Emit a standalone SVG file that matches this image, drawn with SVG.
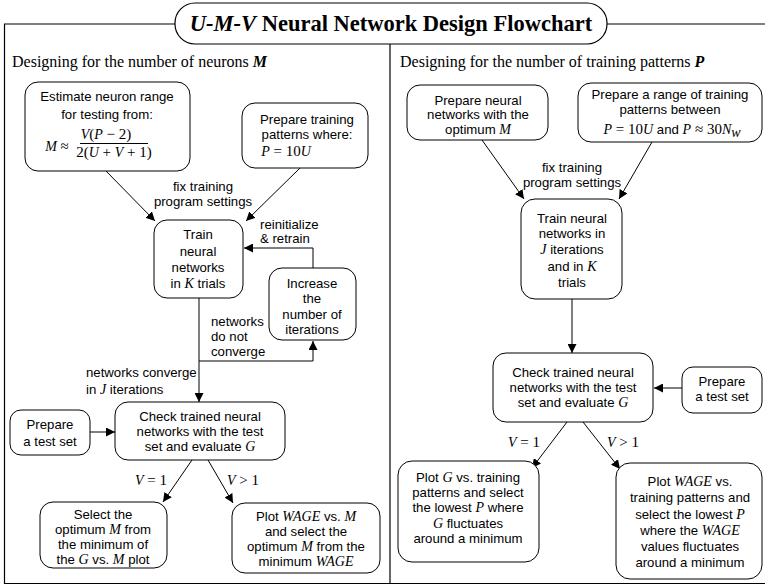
<svg xmlns="http://www.w3.org/2000/svg" width="765" height="586" viewBox="0 0 765 586">
  <defs>
    <marker id="arrow" viewBox="0 0 10 10" refX="10" refY="5" markerWidth="9" markerHeight="9" markerUnits="userSpaceOnUse" orient="auto">
      <path d="M0,0 L10,5 L0,10 z" fill="#000"/>
    </marker>
    <style>
      .frame { fill: none; stroke: #000; stroke-width: 1.2; }
      .box { fill: #fff; stroke: #000; stroke-width: 1; }
      .conn { fill: none; stroke: #000; stroke-width: 1; marker-end: url(#arrow); }
      .line { fill: none; stroke: #000; stroke-width: 1; }
      .t { font-family: "Liberation Sans", Arial, sans-serif; font-size: 13.2px; fill: #000; text-anchor: middle; }
      .l { text-anchor: start; }
      .m { font-family: "Liberation Serif", "Times New Roman", serif; font-style: italic; font-size: 14px; }
      .head { font-family: "Liberation Serif", "Times New Roman", serif; font-size: 16px; fill: #000; }
      .title { font-family: "Liberation Serif", "Times New Roman", serif; font-size: 22.5px; font-weight: bold; fill: #000; text-anchor: middle; }
      .eq { font-family: "Liberation Serif", "Times New Roman", serif; font-size: 15px; fill: #000; text-anchor: middle; }
    </style>
  </defs>

  <rect width="765" height="586" fill="#fff"/>

  <!-- page frame and column divider -->
  <g id="frame">
    <path class="frame" d="M175,24 H4.5 V583.5 H765"/>
    <path class="frame" d="M607,24 H765"/>
    <line class="frame" x1="390" y1="44" x2="390" y2="583.5"/>
  </g>

  <!-- title banner -->
  <g id="title">
    <rect x="175" y="3" width="432" height="41" rx="20" ry="20" fill="#fff" stroke="#000" stroke-width="1.2"/>
    <text class="title" x="391" y="31"><tspan font-style="italic">U-M-V</tspan> Neural Network Design Flowchart</text>
  </g>

  <!-- column headings -->
  <text class="head" x="12" y="67">Designing for the number of neurons <tspan font-weight="bold" font-style="italic">M</tspan></text>
  <text class="head" x="400" y="67">Designing for the number of training patterns <tspan font-weight="bold" font-style="italic">P</tspan></text>

  <!-- connectors -->
  <g id="connectors">
    <!-- left column -->
    <line class="conn" x1="106" y1="171" x2="155" y2="221"/>
    <line class="conn" x1="300" y1="168" x2="246" y2="221"/>
    <path class="conn" d="M313,268 V248 H244"/>
    <line class="conn" x1="199" y1="298" x2="199" y2="402"/>
    <path class="conn" d="M199,361 H313 V341"/>
    <line class="conn" x1="90" y1="432" x2="115" y2="432"/>
    <line class="conn" x1="192" y1="460" x2="163" y2="502"/>
    <line class="conn" x1="208" y1="460" x2="233" y2="503"/>
    <!-- right column -->
    <line class="conn" x1="482" y1="140" x2="524" y2="199"/>
    <line class="conn" x1="652" y1="142" x2="619" y2="199"/>
    <line class="conn" x1="572" y1="299" x2="572" y2="353"/>
    <line class="conn" x1="682" y1="388" x2="654" y2="388"/>
    <line class="conn" x1="567" y1="422" x2="532" y2="468"/>
    <line class="conn" x1="583" y1="422" x2="620" y2="469"/>
  </g>

  <!-- connector labels -->
  <g id="labels">
    <text class="t" x="203" y="191">fix training</text>
    <text class="t" x="203" y="206">program settings</text>
    <text class="t l" x="260" y="229">reinitialize</text>
    <text class="t l" x="260" y="243">&amp; retrain</text>
    <text class="t l" x="211" y="326">networks</text>
    <text class="t l" x="211" y="341">do not</text>
    <text class="t l" x="211" y="356">converge</text>
    <text class="t l" x="86" y="377">networks converge</text>
    <text class="t l" x="86" y="394">in <tspan class="m">J</tspan> iterations</text>
    <text class="eq" x="151" y="485"><tspan class="m">V</tspan> = 1</text>
    <text class="eq" x="243" y="485"><tspan class="m">V</tspan> &gt; 1</text>

    <text class="t" x="572" y="172">fix training</text>
    <text class="t" x="572" y="187">program settings</text>
    <text class="eq" x="524" y="447"><tspan class="m">V</tspan> = 1</text>
    <text class="eq" x="623" y="447"><tspan class="m">V</tspan> &gt; 1</text>
  </g>

  <!-- left column nodes -->
  <g id="estimate">
    <rect class="box" x="25" y="82" width="165" height="89" rx="13"/>
    <text class="t" x="107" y="101">Estimate neuron range</text>
    <text class="t" x="107" y="119">for testing from:</text>
    <text class="eq" x="57" y="151"><tspan class="m" font-size="15">M</tspan> ≈</text>
    <text class="eq" x="106" y="139"><tspan class="m" font-size="15">V</tspan>(<tspan class="m" font-size="15">P</tspan> − 2)</text>
    <line class="line" x1="80" y1="143.5" x2="148" y2="143.5"/>
    <text class="eq" x="114" y="157">2(<tspan class="m" font-size="15">U</tspan> + <tspan class="m" font-size="15">V</tspan> + 1)</text>
  </g>

  <g id="prepare-patterns">
    <rect class="box" x="242" y="103" width="126" height="65" rx="13"/>
    <text class="t" x="307" y="124">Prepare training</text>
    <text class="t" x="307" y="139">patterns where:</text>
    <text class="eq" x="286" y="156"><tspan class="m" font-size="15">P</tspan> = 10<tspan class="m" font-size="15">U</tspan></text>
  </g>

  <g id="train-left">
    <rect class="box" x="154" y="220" width="89" height="78" rx="13"/>
    <text class="t" x="198" y="239">Train</text>
    <text class="t" x="198" y="256">neural</text>
    <text class="t" x="198" y="272">networks</text>
    <text class="t" x="198" y="288">in <tspan class="m">K</tspan> trials</text>
  </g>

  <g id="increase">
    <rect class="box" x="269" y="268" width="87" height="72" rx="13"/>
    <text class="t" x="312" y="288">Increase</text>
    <text class="t" x="312" y="303">the</text>
    <text class="t" x="312" y="319">number of</text>
    <text class="t" x="312" y="334">iterations</text>
  </g>

  <g id="check-left">
    <rect class="box" x="115" y="402" width="170" height="58" rx="13"/>
    <text class="t" x="200" y="421">Check trained neural</text>
    <text class="t" x="200" y="436">networks with the test</text>
    <text class="t" x="200" y="451">set and evaluate <tspan class="m">G</tspan></text>
  </g>

  <g id="testset-left">
    <rect class="box" x="10" y="410" width="80" height="45" rx="11"/>
    <text class="t" x="50" y="429">Prepare</text>
    <text class="t" x="50" y="446">a test set</text>
  </g>

  <g id="select-optimum">
    <rect class="box" x="40" y="502" width="127" height="66" rx="13"/>
    <text class="t" x="103" y="519">Select the</text>
    <text class="t" x="103" y="534">optimum <tspan class="m">M</tspan> from</text>
    <text class="t" x="103" y="549">the minimum of</text>
    <text class="t" x="103" y="564">the <tspan class="m">G</tspan> vs. <tspan class="m">M</tspan> plot</text>
  </g>

  <g id="plot-wage-m">
    <rect class="box" x="232" y="503" width="148" height="70" rx="13"/>
    <text class="t" x="306" y="521">Plot <tspan class="m">WAGE</tspan> vs. <tspan class="m">M</tspan></text>
    <text class="t" x="306" y="536">and select the</text>
    <text class="t" x="306" y="551">optimum <tspan class="m">M</tspan> from the</text>
    <text class="t" x="306" y="566">minimum <tspan class="m">WAGE</tspan></text>
  </g>

  <!-- right column nodes -->
  <g id="prepare-networks">
    <rect class="box" x="407" y="85" width="141" height="55" rx="13"/>
    <text class="t" x="478" y="105">Prepare neural</text>
    <text class="t" x="478" y="119">networks with the</text>
    <text class="t" x="478" y="134">optimum <tspan class="m">M</tspan></text>
  </g>

  <g id="prepare-range">
    <rect class="box" x="578" y="83" width="184" height="59" rx="13"/>
    <text class="t" x="670" y="99">Prepare a range of training</text>
    <text class="t" x="670" y="114">patterns between</text>
    <text class="eq" x="672" y="134"><tspan class="m" font-size="15">P</tspan> = 10<tspan class="m" font-size="15">U</tspan> <tspan font-family="Liberation Sans, Arial, sans-serif" font-size="13.2">and</tspan> <tspan class="m" font-size="15">P</tspan> ≈ 30<tspan class="m" font-size="15">N</tspan><tspan class="m" font-size="10" dy="3">w</tspan></text>
  </g>

  <g id="train-right">
    <rect class="box" x="521" y="199" width="101" height="100" rx="14"/>
    <text class="t" x="572" y="223">Train neural</text>
    <text class="t" x="572" y="238">networks in</text>
    <text class="t" x="572" y="254"><tspan class="m">J</tspan> iterations</text>
    <text class="t" x="572" y="271">and in <tspan class="m">K</tspan></text>
    <text class="t" x="572" y="287">trials</text>
  </g>

  <g id="check-right">
    <rect class="box" x="493" y="353" width="160" height="69" rx="13"/>
    <text class="t" x="573" y="377">Check trained neural</text>
    <text class="t" x="573" y="392">networks with the test</text>
    <text class="t" x="573" y="407">set and evaluate <tspan class="m">G</tspan></text>
  </g>

  <g id="testset-right">
    <rect class="box" x="682" y="367" width="80" height="46" rx="11"/>
    <text class="t" x="722" y="386">Prepare</text>
    <text class="t" x="722" y="401">a test set</text>
  </g>

  <g id="plot-g">
    <rect class="box" x="398" y="461" width="141" height="101" rx="14"/>
    <text class="t" x="468" y="482">Plot <tspan class="m">G</tspan> vs. training</text>
    <text class="t" x="468" y="497">patterns and select</text>
    <text class="t" x="468" y="512">the lowest <tspan class="m">P</tspan> where</text>
    <text class="t" x="468" y="528"><tspan class="m">G</tspan> fluctuates</text>
    <text class="t" x="468" y="543">around a minimum</text>
  </g>

  <g id="plot-wage-p">
    <rect class="box" x="616" y="463" width="146" height="116" rx="14"/>
    <text class="t" x="690" y="486">Plot <tspan class="m">WAGE</tspan> vs.</text>
    <text class="t" x="690" y="502">training patterns and</text>
    <text class="t" x="690" y="519">select the lowest <tspan class="m">P</tspan></text>
    <text class="t" x="690" y="535">where the <tspan class="m">WAGE</tspan></text>
    <text class="t" x="690" y="551">values fluctuates</text>
    <text class="t" x="690" y="567">around a minimum</text>
  </g>
</svg>
